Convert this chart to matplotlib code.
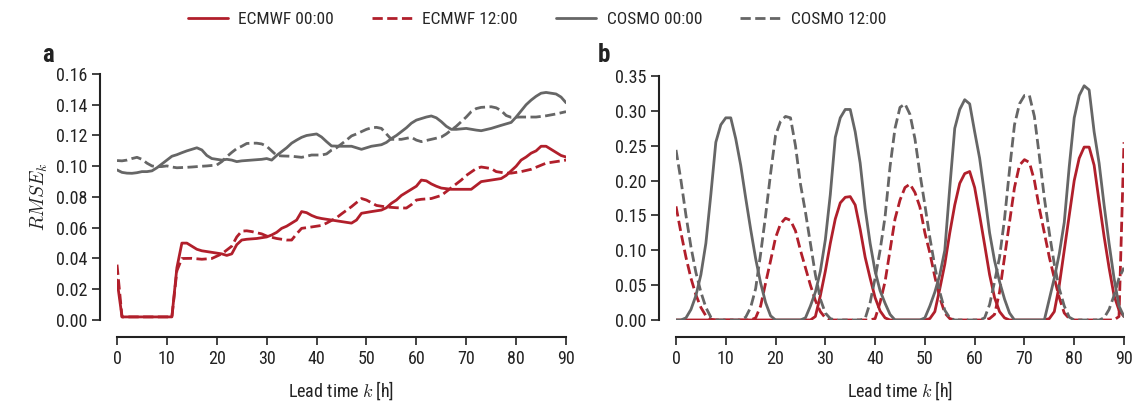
import numpy as np
import matplotlib
matplotlib.use('Agg')
import matplotlib.pyplot as plt
import seaborn as sns

# ---- panel a: RMSE per lead time (hourly) ----
ec00_k = [0, 1, 11, 12, 13, 14, 15, 16, 17, 18, 19, 20, 21, 22, 23, 24, 25, 26, 28, 30, 31, 32, 33, 34, 35,
          36, 37, 38, 39, 40, 41, 43, 45, 47, 48, 49, 51, 53, 54, 55, 56, 57, 58, 59, 60, 61, 62, 63, 64,
          65, 67, 71, 72, 73, 75, 77, 78, 79, 80, 81, 82, 83, 84, 85, 86, 87, 88, 89, 90]
ec00_v = [0.026, 0.002, 0.002, 0.034, 0.050, 0.050, 0.048, 0.046, 0.045, 0.0445, 0.044, 0.0435, 0.043,
          0.042, 0.043, 0.049, 0.052, 0.0525, 0.053, 0.054, 0.0553, 0.057, 0.0596, 0.061, 0.063, 0.065,
          0.0705, 0.0698, 0.068, 0.0667, 0.066, 0.065, 0.064, 0.063, 0.065, 0.0694, 0.0705, 0.0715, 0.073,
          0.0759, 0.078, 0.081, 0.083, 0.085, 0.087, 0.091, 0.0905, 0.0885, 0.087, 0.0858, 0.085, 0.085,
          0.0875, 0.090, 0.091, 0.092, 0.094, 0.097, 0.100, 0.104, 0.106, 0.1085, 0.110, 0.113, 0.113,
          0.111, 0.109, 0.107, 0.106]

ec12_k = [0, 1, 11, 12, 13, 15, 17, 19, 21, 22, 23, 24, 25, 26, 27, 29, 30, 32, 34, 35, 36, 37, 39, 41,
          42, 44, 45, 47, 49, 50, 52, 54, 56, 58, 59, 60, 61, 63, 65, 66, 67, 69, 70, 72, 73, 75, 76, 78,
          79, 81, 83, 86, 90]
ec12_v = [0.036, 0.002, 0.002, 0.032, 0.040, 0.0401, 0.0395, 0.040, 0.043, 0.0455, 0.048, 0.054, 0.0578,
          0.058, 0.0575, 0.056, 0.0546, 0.053, 0.052, 0.052, 0.056, 0.0596, 0.0605, 0.0615, 0.063, 0.0665,
          0.069, 0.0737, 0.079, 0.078, 0.0745, 0.0735, 0.073, 0.0728, 0.075, 0.078, 0.0785, 0.079, 0.081,
          0.0835, 0.086, 0.091, 0.094, 0.0985, 0.0995, 0.0985, 0.0965, 0.0955, 0.0955, 0.0965, 0.098,
          0.102, 0.104]

co00_k = [0, 1, 2, 3, 4, 5, 6, 7, 8, 9, 10, 11, 12, 13, 14, 15, 16, 17, 18, 19, 20, 21, 22, 23, 24, 25,
          27, 29, 30, 31, 32, 33, 34, 35, 36, 37, 38, 39, 40, 41, 42, 43, 45, 47, 49, 51, 53, 54, 55, 56,
          57, 58, 59, 60, 61, 62, 63, 64, 65, 66, 67, 68, 70, 72, 73, 75, 77, 79, 80, 81, 82, 83, 84, 85,
          86, 87, 88, 89, 90]
co00_v = [0.0976, 0.096, 0.0955, 0.0954, 0.0958, 0.0965, 0.0965, 0.097, 0.099, 0.1015, 0.104, 0.1065,
          0.1075, 0.1088, 0.110, 0.111, 0.112, 0.1106, 0.107, 0.105, 0.1045, 0.104, 0.1045, 0.104, 0.103,
          0.1035, 0.104, 0.1045, 0.105, 0.104, 0.107, 0.1095, 0.112, 0.115, 0.117, 0.1188, 0.120, 0.1205,
          0.121, 0.119, 0.116, 0.1132, 0.113, 0.113, 0.111, 0.113, 0.114, 0.1155, 0.118, 0.120, 0.1225,
          0.125, 0.128, 0.130, 0.131, 0.132, 0.1327, 0.1315, 0.129, 0.126, 0.124, 0.124, 0.1246, 0.1235,
          0.1231, 0.1246, 0.1266, 0.1285, 0.132, 0.136, 0.140, 0.143, 0.1455, 0.1475, 0.148, 0.1475,
          0.147, 0.145, 0.1413]

co12_k = [0, 1, 2, 3, 4, 5, 6, 7, 8, 9, 10, 11, 12, 14, 15, 17, 18, 20, 21, 22, 23, 24, 25, 26, 27, 28,
          29, 30, 31, 32, 33, 35, 37, 38, 39, 41, 42, 43, 44, 45, 46, 47, 48, 49, 50, 51, 52, 53, 54, 55,
          57, 59, 60, 61, 63, 65, 66, 67, 68, 69, 70, 71, 72, 73, 75, 76, 77, 78, 79, 81, 84, 86, 88, 90]
co12_v = [0.1037, 0.1035, 0.104, 0.105, 0.1058, 0.1045, 0.102, 0.1002, 0.0997, 0.0998, 0.1002, 0.0995,
          0.099, 0.0993, 0.0995, 0.100, 0.1002, 0.1008, 0.103, 0.1062, 0.109, 0.1115, 0.113, 0.1148,
          0.115, 0.115, 0.1145, 0.113, 0.110, 0.107, 0.1067, 0.1065, 0.1058, 0.1065, 0.1073, 0.1073,
          0.108, 0.1105, 0.112, 0.1145, 0.117, 0.1197, 0.121, 0.1225, 0.124, 0.125, 0.1253, 0.1246,
          0.121, 0.1175, 0.1175, 0.1188, 0.117, 0.116, 0.1175, 0.119, 0.121, 0.1235, 0.126, 0.129, 0.132,
          0.1355, 0.1375, 0.1383, 0.1387, 0.138, 0.1362, 0.133, 0.1318, 0.132, 0.132, 0.1328, 0.134,
          0.1355]

# ---- panel b: hourly values 0..90 ----
lead_b = list(range(91))
ec00_b = [0] * 28 + [0.005, 0.035, 0.07, 0.11, 0.145, 0.168, 0.176, 0.177, 0.165, 0.13, 0.09, 0.06,
                     0.032, 0.013, 0.003] + [0] * 8 + \
         [0.002, 0.012, 0.045, 0.08, 0.125, 0.165, 0.196, 0.21, 0.213, 0.19, 0.15, 0.108, 0.065, 0.032,
          0.012, 0.003] + [0] * 8 + \
         [0.002, 0.012, 0.05, 0.1, 0.15, 0.2, 0.232, 0.248, 0.248, 0.222, 0.17, 0.12, 0.075, 0.035,
          0.014, 0.005]
ec12_b = [0.163, 0.125, 0.09, 0.06, 0.036, 0.018, 0.006, 0.001] + [0] * 8 + \
         [0.003, 0.02, 0.053, 0.085, 0.118, 0.138, 0.146, 0.143, 0.128, 0.1, 0.075, 0.05, 0.028, 0.012,
          0.003] + [0] * 9 + \
         [0.002, 0.025, 0.055, 0.1, 0.145, 0.172, 0.19, 0.195, 0.183, 0.162, 0.125, 0.096, 0.062, 0.032,
          0.01, 0.002] + [0] * 7 + \
         [0.002, 0.008, 0.04, 0.09, 0.14, 0.19, 0.222, 0.23, 0.226, 0.2, 0.16, 0.125, 0.09, 0.06, 0.032,
          0.01, 0.002] + [0] * 9 + [0.005, 0.255]
co00_b = [0, 0, 0.003, 0.015, 0.035, 0.065, 0.11, 0.18, 0.255, 0.28, 0.29, 0.29, 0.26, 0.222, 0.175,
          0.13, 0.088, 0.053, 0.025, 0.006] + [0] * 6 + \
         [0.003, 0.02, 0.04, 0.07, 0.115, 0.18, 0.262, 0.29, 0.302, 0.302, 0.27, 0.225, 0.16, 0.11, 0.07,
          0.042, 0.024, 0.008] + [0] * 6 + \
         [0.003, 0.02, 0.04, 0.065, 0.1, 0.19, 0.275, 0.302, 0.316, 0.31, 0.27, 0.232, 0.18, 0.125,
          0.085, 0.055, 0.03, 0.01] + [0] * 7 + \
         [0.03, 0.06, 0.095, 0.14, 0.22, 0.29, 0.322, 0.336, 0.33, 0.27, 0.225, 0.165, 0.11, 0.06, 0.02,
          0.005]
co12_b = [0.244, 0.2, 0.15, 0.105, 0.068, 0.04, 0.018, 0.004] + [0] * 6 + \
         [0.004, 0.018, 0.045, 0.095, 0.15, 0.21, 0.265, 0.285, 0.292, 0.29, 0.25, 0.195, 0.155, 0.11,
          0.065, 0.03, 0.01, 0.002] + [0] * 6 + \
         [0.002, 0.025, 0.06, 0.1, 0.148, 0.22, 0.275, 0.305, 0.31, 0.295, 0.26, 0.21, 0.165, 0.118,
          0.077, 0.04, 0.014, 0.003] + [0] * 6 + \
         [0.003, 0.022, 0.055, 0.09, 0.145, 0.215, 0.28, 0.31, 0.322, 0.322, 0.292, 0.235, 0.175, 0.125,
          0.08, 0.045, 0.02, 0.004] + [0] * 6 + [0.003, 0.015, 0.035, 0.06, 0.075]

labels = ['ECMWF 00:00', 'ECMWF 12:00', 'COSMO 00:00', 'COSMO 12:00']
red = '#b11f2b'
grey = '#666666'

sns.set_style('ticks')
# narrow sans like the original; fall back to regular if missing
plt.rcParams['font.family'] = ['Liberation Sans Narrow', 'Arimo Narrow', 'Roboto Condensed',
                               'Archivo Narrow', 'Liberation Sans', 'DejaVu Sans']
plt.rcParams['mathtext.fontset'] = 'cm'

fig = plt.figure(figsize=(11.35, 4.03), dpi=100)
ax_a = fig.add_axes([0.1031, 0.2060, 0.3956, 0.6104])
ax_b = fig.add_axes([0.5956, 0.2060, 0.3947, 0.6054])

lw = 2.0
ax_a.plot(ec00_k, ec00_v, color=red, lw=lw, label=labels[0])
ax_a.plot(ec12_k, ec12_v, color=red, lw=lw, ls='--', label=labels[1])
ax_a.plot(co00_k, co00_v, color=grey, lw=lw, label=labels[2])
ax_a.plot(co12_k, co12_v, color=grey, lw=lw, ls='--', label=labels[3])

ax_b.plot(lead_b, ec00_b, color=red, lw=lw)
ax_b.plot(lead_b, ec12_b, color=red, lw=lw, ls='--')
ax_b.plot(lead_b, co00_b, color=grey, lw=lw)
ax_b.plot(lead_b, co12_b, color=grey, lw=lw, ls='--')

ax_a.set_xlim(0, 90)
ax_a.set_ylim(0, 0.16)
ax_a.set_yticks(np.arange(0, 0.161, 0.02))
ax_b.set_xlim(0, 90)
ax_b.set_ylim(0, 0.35)
ax_b.set_yticks(np.arange(0, 0.351, 0.05))

for ax in (ax_a, ax_b):
    ax.set_xticks(range(0, 91, 10))
    ax.yaxis.set_major_formatter(matplotlib.ticker.FormatStrFormatter('%.2f'))
    ax.tick_params(labelsize=13, length=6, width=1.2, color='#222222', labelcolor='#222222')
    ax.set_xlabel('Lead time $k$ [h]', fontsize=13, color='#222222', labelpad=8)
    sns.despine(ax=ax, offset=12, trim=True)
    for s in ('left', 'bottom'):
        ax.spines[s].set_linewidth(1.5)
        ax.spines[s].set_color('#222222')

ax_a.set_ylabel('$RMSE_k$', fontsize=14, color='#222222')

fig.text(0.037, 0.845, 'a', fontsize=18, fontweight='bold', color='#222222')
fig.text(0.527, 0.845, 'b', fontsize=18, fontweight='bold', color='#222222')

fig.legend(loc='upper center', bbox_to_anchor=(0.473, 1.01), ncol=4, frameon=False,
           fontsize=12.5, handlelength=2.3, handletextpad=0.6, columnspacing=2.2)

fig.savefig('out.png', dpi=100)
